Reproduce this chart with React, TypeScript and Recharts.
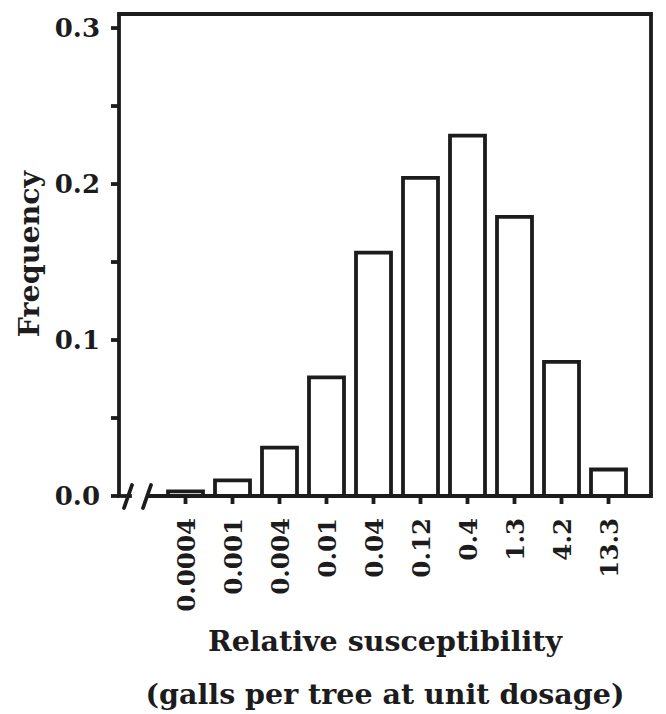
import { BarChart, Bar, XAxis, YAxis } from "recharts"

const categories = ["0.0004", "0.001", "0.004", "0.01", "0.04", "0.12", "0.4", "1.3", "4.2", "13.3"]
const frequency = [0.003, 0.01, 0.031, 0.076, 0.156, 0.204, 0.231, 0.179, 0.086, 0.017]
const yTicks = [0, 0.05, 0.1, 0.15, 0.2, 0.25, 0.3]
const yTickLabels = ["0.0", "", "0.1", "", "0.2", "", "0.3"]

const data = categories.map((name, i) => ({ name, frequency: frequency[i] }))

const W = 666
const H = 714
const LEFT = 119
const RIGHT = 651
const TOP = 14
const BOTTOM = 496
const INK = "#1c1c1c"
const FONT = "'DejaVu Serif', serif"
const SW = 3.8

const tickStyle = { fill: INK, fontSize: 26, fontWeight: 700, fontFamily: FONT }

function XTick({ x, y, payload }: any) {
    return (
        <text
            transform={`translate(${x + 9},${y}) rotate(-90)`}
            textAnchor="end"
            fill={INK}
            fontSize={24.5}
            fontWeight={700}
            fontFamily={FONT}
        >
            {payload.value}
        </text>
    )
}

// frame top + broken bottom axis and titles, drawn over the chart
function Overlay() {
    const b = BOTTOM
    const s1 = LEFT + 9
    const s2 = LEFT + 28
    return (
        <svg width={W} height={H} style={{ position: "absolute", left: 0, top: 0, pointerEvents: "none" }}>
            <g stroke={INK} strokeWidth={SW} strokeLinecap="square" fill="none">
                <line x1={LEFT} y1={TOP} x2={RIGHT} y2={TOP} />
                <line x1={LEFT} y1={b} x2={s1 + 2} y2={b} />
                <line x1={s2 + 2} y1={b} x2={RIGHT} y2={b} />
            </g>
            <g stroke={INK} strokeWidth={SW} strokeLinecap="round">
                <line x1={s1 + 4} y1={b - 11} x2={s1 - 4} y2={b + 12} />
                <line x1={s2 + 4} y1={b - 11} x2={s2 - 4} y2={b + 12} />
            </g>
            <g fill={INK} fontFamily={FONT} fontWeight={700} fontSize={28.5} textAnchor="middle">
                <text transform={`translate(39,254) rotate(-90)`}>Frequency</text>
                <text x={(LEFT + RIGHT) / 2} y={651}>Relative susceptibility</text>
                <text x={(LEFT + RIGHT) / 2} y={704}>(galls per tree at unit dosage)</text>
            </g>
        </svg>
    )
}

export default function App() {
    return (
        <div style={{ position: "absolute", left: 0, top: 0, width: W, height: H, background: "#fff" }}>
            <BarChart
                width={W}
                height={H}
                data={data}
                margin={{ top: TOP, right: 0, bottom: 0, left: 0 }}
                barSize={35}
            >
                <XAxis
                    dataKey="name"
                    height={H - BOTTOM}
                    padding={{ left: 43, right: 19 }}
                    axisLine={false}
                    tickLine={{ stroke: INK, strokeWidth: SW }}
                    tickSize={8}
                    tickMargin={14}
                    interval={0}
                    tick={<XTick />}
                />
                <YAxis
                    yAxisId="left"
                    width={LEFT}
                    type="number"
                    domain={[0, 0.309]}
                    ticks={yTicks}
                    interval={0}
                    tickFormatter={(v: number) => yTickLabels[yTicks.indexOf(v)] ?? ""}
                    axisLine={{ stroke: INK, strokeWidth: SW }}
                    tickLine={{ stroke: INK, strokeWidth: SW }}
                    tickSize={8}
                    tickMargin={11}
                    tick={tickStyle}
                />
                <YAxis
                    yAxisId="right"
                    orientation="right"
                    width={W - RIGHT}
                    type="number"
                    domain={[0, 0.309]}
                    ticks={yTicks}
                    interval={0}
                    tickFormatter={() => ""}
                    axisLine={{ stroke: INK, strokeWidth: SW }}
                    tickLine={{ stroke: INK, strokeWidth: SW }}
                    tickSize={8}
                />
                <Bar
                    yAxisId="left"
                    dataKey="frequency"
                    fill="#fff"
                    stroke={INK}
                    strokeWidth={SW}
                    isAnimationActive={false}
                />
            </BarChart>
            <Overlay />
        </div>
    )
}
